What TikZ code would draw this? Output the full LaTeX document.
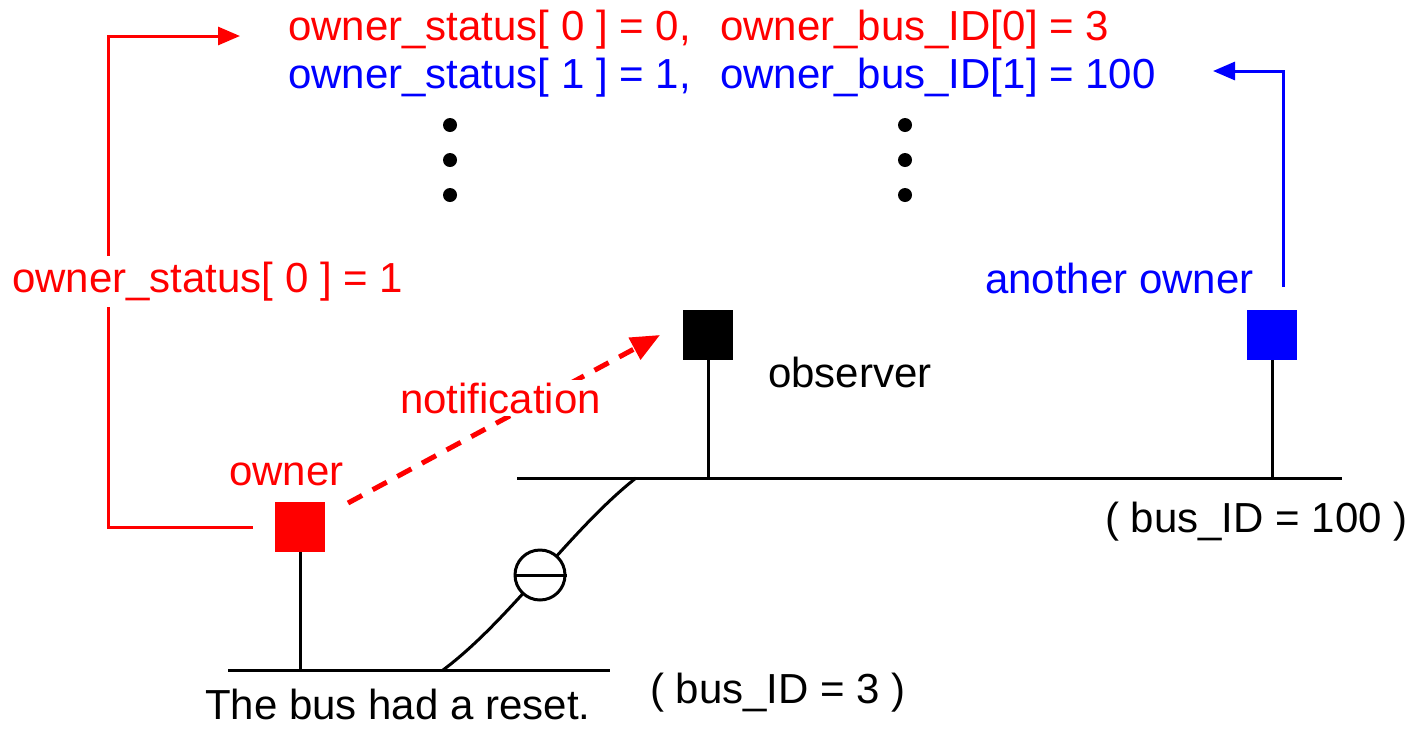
\documentclass[tikz,border=0pt]{standalone}
\usepackage{fontspec}
\setmainfont{Liberation Sans}
\usetikzlibrary{arrows.meta}
\definecolor{ownred}{RGB}{255,0,0}
\definecolor{ownblue}{RGB}{0,0,255}
\begin{document}
\begin{tikzpicture}[x=1pt,y=-1pt,
  lbl/.style={inner sep=0pt, anchor=base west, font=\fontsize{42}{50}\selectfont},
  dev/.style={minimum size=50pt, inner sep=0pt, draw=none},
  wire/.style={line width=3pt},
  link/.style={line width=3pt, -{Triangle[length=22pt,width=18pt]}},
  dotmark/.style={circle, fill=black, minimum size=14pt, inner sep=0pt},
  breaker/.style={circle, draw, fill=white, line width=3pt, minimum size=50pt, inner sep=0pt}]
\useasboundingbox (0,0) rectangle (1412,729);

% ownership table
\node[lbl, ownred]  (s0) at (288,40) {owner\_status[ 0 ] = 0,};
\node[lbl, ownred]  (b0) at (720,40) {owner\_bus\_ID[0] = 3};
\node[lbl, ownblue] (s1) at (288,88) {owner\_status[ 1 ] = 1,};
\node[lbl, ownblue] (b1) at (720,88) {owner\_bus\_ID[1] = 100};
\node[dotmark] (da1) at (450,125) {};
\node[dotmark] (da2) at (450,160) {};
\node[dotmark] (da3) at (450,195) {};
\node[dotmark] (db1) at (905,125) {};
\node[dotmark] (db2) at (905,160) {};
\node[dotmark] (db3) at (905,195) {};

% buses
\coordinate (b3l) at (228,670);
\coordinate (b3r) at (610,670);
\coordinate (bhl) at (517,478);
\coordinate (bhr) at (1342,478);
\draw[wire] (b3l) -- (b3r);
\draw[wire] (bhl) -- (bhr);

% devices
\node[dev, fill=ownred]  (own) at (300,527) {};
\node[dev, fill=black]   (obs) at (708,335) {};
\node[dev, fill=ownblue] (ano) at (1272,335) {};
\draw[wire] (own.south) -- (own.south |- b3l);
\draw[wire] (obs.south) -- (obs.south |- bhl);
\draw[wire] (ano.south) -- (ano.south |- bhl);

% bridge between the buses
\coordinate (c3) at (443,670);
\coordinate (c100) at (636,478);
\draw[wire] (c3) .. controls (510,620) and (570,530) .. (c100);
\node[breaker] (brk) at (540,575) {};
\draw[wire] (brk.west) -- (brk.east);

% labels
\node[lbl, ownred]  (lown) at (229,485) {owner};
\node[lbl]          (lobs) at (768,387) {observer};
\node[lbl, ownblue] (lano) at (985,293) {another owner};
\node[lbl]          (lb100) at (1105,532) {( bus\_ID = 100 )};
\node[lbl]          (lb3) at (650,703) {( bus\_ID = 3 )};
\node[lbl]          (lrst) at (205,719) {The bus had a reset.};

% status update of the owner
\coordinate (rc1) at (108,527);
\coordinate (rc2) at (108,36);
\coordinate (rtip) at (240,36);
\draw[link, ownred, shorten <=22pt] (own.west) -- (rc1) -- (rc2) -- (rtip);
\node[lbl, ownred, fill=white, inner ysep=6pt, inner xsep=0pt] (lst) at (12,292) {owner\_status[ 0 ] = 1};

% update by the other owner
\coordinate (bc0) at (1283,287);
\coordinate (bc1) at (1283,71);
\coordinate (btip) at (1213,71);
\draw[link, ownblue] (bc0) -- (bc1) -- (btip);

% notification
\coordinate (ns) at (348,503);
\coordinate (nt) at (660,335);
\draw[ownred, line width=5pt, dash pattern=on 16pt off 12pt, -{Triangle[length=29pt,width=24pt]}] (ns) -- (nt);
\node[lbl, ownred, fill=white, inner sep=3pt] (lnot) at (397,413) {notification};
\end{tikzpicture}
\end{document}
